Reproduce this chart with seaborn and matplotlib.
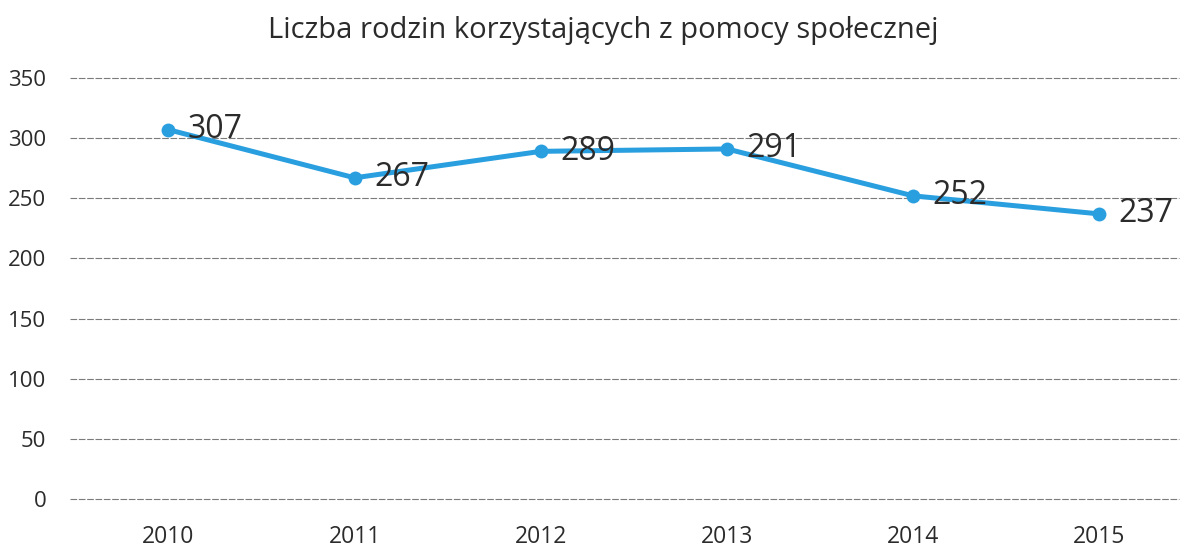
import matplotlib
matplotlib.use("Agg")
import matplotlib.pyplot as plt
import seaborn as sns
import pandas as pd

# Data
years = ["2010", "2011", "2012", "2013", "2014", "2015"]
families = [307, 267, 289, 291, 252, 237]
y_ticks = [0, 50, 100, 150, 200, 250, 300, 350]

TITLE = "Liczba rodzin korzystających z pomocy społecznej"
LINE_COLOR = "#2a9fe0"
TEXT_COLOR = "#2b2b2b"

sns.set_theme(style="white")
plt.rcParams["font.family"] = ["Open Sans", "DejaVu Sans"]

df = pd.DataFrame({"year": years, "families": families})

fig = plt.figure(figsize=(11.83, 5.49), dpi=100)
ax = fig.add_axes([0.059, 0.091, 0.938, 0.767])

for v in y_ticks:
    ax.axhline(v, color="#5a5a5a", linewidth=0.8, linestyle=(0, (6, 1.5)),
               alpha=0.8, zorder=1, clip_on=False)

sns.lineplot(data=df, x="year", y="families", ax=ax, color=LINE_COLOR,
             linewidth=3.6, marker="o", markersize=10, markeredgewidth=0,
             sort=False, zorder=3)

for i, v in enumerate(families):
    ax.annotate(str(v), (i, v), xytext=(14, 0), textcoords="offset points",
                ha="left", va="center", fontsize=23, color=TEXT_COLOR, zorder=4)

ax.set_xlim(-0.53, 5.43)
ax.set_ylim(0, 350)
ax.set_yticks(y_ticks)
ax.set_xlabel("")
ax.set_ylabel("")
ax.tick_params(axis="y", length=0, pad=17, labelsize=16, labelcolor=TEXT_COLOR)
ax.tick_params(axis="x", length=0, pad=19, labelsize=16.5, labelcolor=TEXT_COLOR)
for side in ax.spines.values():
    side.set_visible(False)

fig.suptitle(TITLE, x=0.51, y=0.97, fontsize=21, color=TEXT_COLOR)

fig.savefig("out.png", dpi=100, facecolor="white")
